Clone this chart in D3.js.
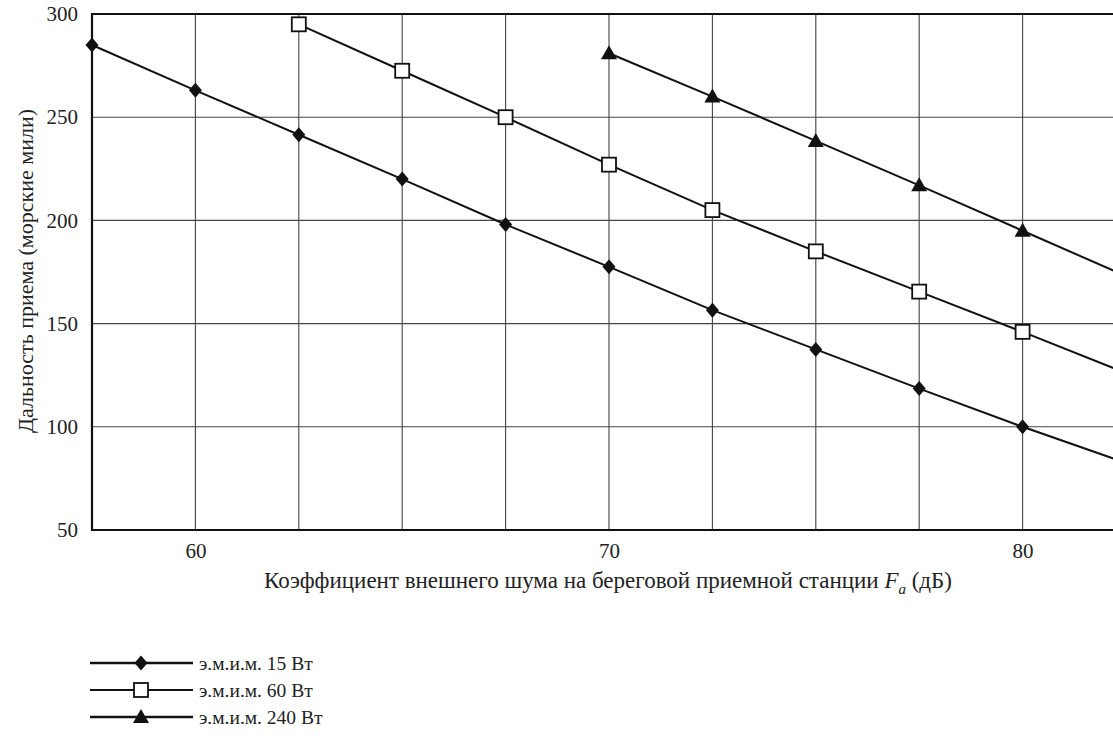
<!DOCTYPE html>
<html><head><meta charset="utf-8">
<script src="https://cdn.jsdelivr.net/npm/d3@7/dist/d3.min.js"></script>
<style>body{margin:0;background:#fff}svg{display:block}</style>
</head><body><svg id="c" width="1113" height="740" style="font-family:'Liberation Serif',Tinos,'Times New Roman','DejaVu Serif',serif"></svg>
<script>
const xValues = [57.5, 60, 62.5, 65, 67.5, 70, 72.5, 75, 77.5, 80, 82.5];
const s15 = [285, 263, 241.5, 220, 198, 177.5, 156.5, 137.5, 118.5, 100, 82.5];
const s60 = [null, null, 295, 272.5, 250, 227, 205, 185, 165.5, 146, 126];
const s240 = [null, null, null, null, null, 281, 260, 238.5, 217, 195, 173];
const markerLast = 80; // markers drawn up to this x
const xTicks = [60, 70, 80];
const xGrid = [60, 62.5, 65, 67.5, 70, 72.5, 75, 77.5, 80];
const yTicks = [50, 100, 150, 200, 250, 300];
const seriesNames = ["э.м.и.м. 15 Вт", "э.м.и.м. 60 Вт", "э.м.и.м. 240 Вт"];
const xTitle = "Коэффициент внешнего шума на береговой приемной станции ";
const yTitle = "Дальность приема (морские мили)";

const FONT = "'Liberation Serif',Tinos,'Times New Roman','DejaVu Serif',serif";
const svg = d3.select("#c");
const L = 92, T = 14, B = 530;
const x = d3.scaleLinear().domain([57.5, 82.5]).range([L, L + 25 * 41.36]);
const y = d3.scaleLinear().domain([50, 300]).range([B, T]);
const R = x(82.5);

const g = svg.append("g");
g.selectAll(".vg").data(xGrid).join("line").attr("x1", d => x(d)).attr("x2", d => x(d))
  .attr("y1", T).attr("y2", B).attr("stroke", "#444").attr("stroke-width", 1.1);
g.selectAll(".hg").data(yTicks.slice(1, -1)).join("line").attr("x1", L).attr("x2", R)
  .attr("y1", d => y(d)).attr("y2", d => y(d)).attr("stroke", "#444").attr("stroke-width", 1.1);
g.append("path").attr("d", `M${R},${T}H${L}V${B}H${R}`).attr("fill", "none").attr("stroke", "#111").attr("stroke-width", 2.2);

const yAxis = d3.axisLeft(y).tickValues(yTicks).tickSize(0).tickPadding(14);
const ya = svg.append("g").attr("transform", `translate(${L},0)`).call(yAxis).attr("font-family", FONT);
ya.select(".domain").remove();
ya.selectAll("text").attr("font-size", 21).style("font-family", FONT).attr("fill", "#222");
const xAxis = d3.axisBottom(x).tickValues(xTicks).tickSize(0).tickPadding(13);
const xa = svg.append("g").attr("transform", `translate(0,${B})`).call(xAxis).attr("font-family", FONT);
xa.select(".domain").remove();
xa.selectAll("text").attr("font-size", 21).style("font-family", FONT).attr("fill", "#222");

const xt = svg.append("text").attr("x", 608).attr("y", 588).attr("text-anchor", "middle").attr("font-size", 23).style("font-family", FONT).attr("fill", "#222");
xt.append("tspan").text(xTitle);
xt.append("tspan").attr("font-style", "italic").text("F");
xt.append("tspan").attr("font-style", "italic").attr("font-size", 15).attr("dy", 6).text("a");
xt.append("tspan").attr("dy", -6).text(" (дБ)");
svg.append("text").attr("transform", "translate(33,271) rotate(-90)").attr("text-anchor", "middle")
  .attr("font-size", 22).style("font-family", FONT).attr("fill", "#222").text(yTitle);

const line = d3.line().defined(d => d[1] != null).x(d => x(d[0])).y(d => y(d[1]));
const all = [s15, s60, s240].map(s => xValues.map((v, i) => [v, s[i]]));
all.forEach(d => g.append("path").attr("d", line(d)).attr("fill", "none").attr("stroke", "#111").attr("stroke-width", 2));

function marker(sel, type) {
  if (type === 0) sel.append("path").attr("d", "M0,-7.5L6.5,0L0,7.5L-6.5,0Z").attr("fill", "#111");
  else if (type === 1) sel.append("rect").attr("x", -7).attr("y", -7).attr("width", 14).attr("height", 14).attr("fill", "#fff").attr("stroke", "#111").attr("stroke-width", 1.8);
  else sel.append("path").attr("d", "M0,-8L8,6L-8,6Z").attr("fill", "#111");
}
all.forEach((d, k) => {
  d.filter(p => p[1] != null && p[0] <= markerLast).forEach(p => {
    const m = g.append("g").attr("transform", `translate(${x(p[0])},${y(p[1])})`);
    marker(m, k);
  });
});

const ly = [663, 690, 717];
seriesNames.forEach((n, k) => {
  svg.append("line").attr("x1", 90).attr("x2", 193).attr("y1", ly[k]).attr("y2", ly[k]).attr("stroke", "#111").attr("stroke-width", k === 1 ? 2.2 : 2.6);
  const m = svg.append("g").attr("transform", `translate(141,${ly[k]})`);
  marker(m, k);
  svg.append("text").attr("x", 199).attr("y", ly[k] + 7).attr("font-size", 19.5).style("font-family", FONT).attr("fill", "#222").text(n);
});
</script></body></html>
